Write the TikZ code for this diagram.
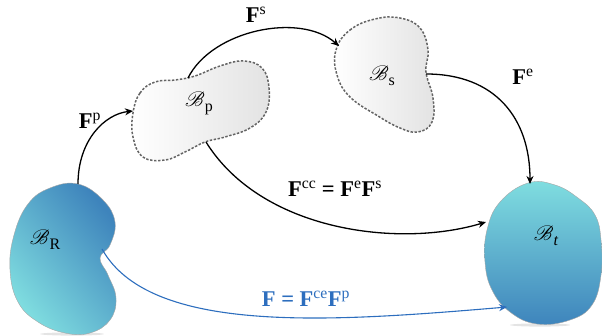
\documentclass[tikz,border=0pt]{standalone}
\usepackage{fontspec}
\setmainfont{Liberation Serif}
\usepackage{mathrsfs}
\usetikzlibrary{arrows.meta}
\definecolor{cyanlight}{RGB}{128,222,224}
\definecolor{bluedark}{RGB}{62,132,188}
\definecolor{bluearrow}{RGB}{45,110,190}
\definecolor{dashgray}{RGB}{100,100,100}
\tikzset{
  ghost/.style={draw=dashgray, line width=1.5pt, dash pattern=on 2.4pt off 1.6pt, left color=white, right color=gray!22},
  solidbody/.style={draw=gray!70, line width=0.4pt},
  map/.style={line width=1.3pt, -{Stealth[length=8pt,width=7pt]}},
  lbl/.style={inner sep=0pt, font=\fontsize{22.5}{26}\selectfont},
  bodylbl/.style={inner sep=0pt, font=\fontsize{21}{24}\selectfont},
}
\newcommand{\sub}[1]{\raisebox{-5pt}{\fontsize{16}{16}\selectfont #1}}
\newcommand{\Fb}{\textbf{F}}
\begin{document}
\begin{tikzpicture}[x=1pt,y=-1pt]
\useasboundingbox (0,0) rectangle (602,336);
% shadows
\fill[black!35, opacity=0.3] (72,334) ellipse (32 and 1.6);
\fill[black!35, opacity=0.3] (540,325) ellipse (30 and 1.6);
% B_R
\shade[solidbody, left color=cyanlight, right color=bluedark, shading angle=130]
  plot[smooth cycle, tension=0.7] coordinates {(78,184) (103,200) (115,222) (110,245) (100,258) (108,275) (116,298) (110,320) (90,333) (65,333) (38,322) (18,302) (10,270) (14,235) (28,204) (50,188)};
% B_t
\shade[solidbody, top color=cyanlight, bottom color=bluedark]
  plot[smooth cycle, tension=0.7] coordinates {(528,183) (555,185) (578,198) (595,215) (601,240) (601,275) (592,305) (570,320) (537,324) (510,312) (492,290) (485,262) (487,230) (500,202)};
% B_p
\shade[ghost]
  plot[smooth cycle, tension=0.7] coordinates {(133,113) (140,93) (155,82) (175,80) (195,76) (220,66) (243,61) (262,68) (269,88) (266,112) (250,128) (225,137) (205,142) (185,152) (165,160) (143,157) (133,137)};
% B_s
\shade[ghost]
  plot[smooth cycle, tension=0.7] coordinates {(336,50) (350,30) (375,19) (400,18) (420,28) (428,50) (426,72) (433,98) (432,122) (418,132) (400,128) (378,116) (350,97) (337,75)};
% anchor points on bodies
\coordinate (RTop) at (78,184);
\coordinate (RRight) at (102,249);
\coordinate (PLeft) at (133,111);
\coordinate (PTop) at (188,78);
\coordinate (PBot) at (206,142);
\coordinate (SLeft) at (339,46);
\coordinate (SRight) at (426,74);
\coordinate (TTop) at (530,184);
\coordinate (TLeft) at (486,222);
\coordinate (TBot) at (507,307);
% body labels
\node[bodylbl] (lR) at (45,240) {$\mathscr{B}$\sub{R}};
\node[bodylbl] (lP) at (199,103) {$\mathscr{B}$\sub{p}};
\node[bodylbl] (lS) at (382,76) {$\mathscr{B}$\sub{s}};
\node[bodylbl] (lT) at (546,236) {$\mathscr{B}$\sub{\itshape t}};
% connectors
\draw[map] (RTop) .. controls (78,140) and (105,114) .. (PLeft);
\draw[map] (PTop) .. controls (212,30) and (300,12) .. (SLeft);
\draw[map] (SRight) .. controls (495,74) and (530,118) .. (TTop);
\draw[map] (PBot) .. controls (262,232) and (400,248) .. (TLeft);
\draw[map, draw=bluearrow, line width=1.1pt] (RRight) .. controls (150,335) and (330,322) .. (TBot);
% map labels
\node[lbl] (fp) at (90,121) {\Fb\textsuperscript{p}};
\node[lbl] (fs) at (256,15) {\Fb\textsuperscript{s}};
\node[lbl] (fe) at (523,77) {\Fb\textsuperscript{e}};
\node[lbl] (fcc) at (335,189) {\Fb\textsuperscript{cc} \textbf{=} \Fb\textsuperscript{e}\Fb\textsuperscript{s}};
\node[lbl, text=bluearrow] (ff) at (306,299) {\Fb\ \textbf{=} \Fb\textsuperscript{ce}\Fb\textsuperscript{p}};
\end{tikzpicture}
\end{document}
